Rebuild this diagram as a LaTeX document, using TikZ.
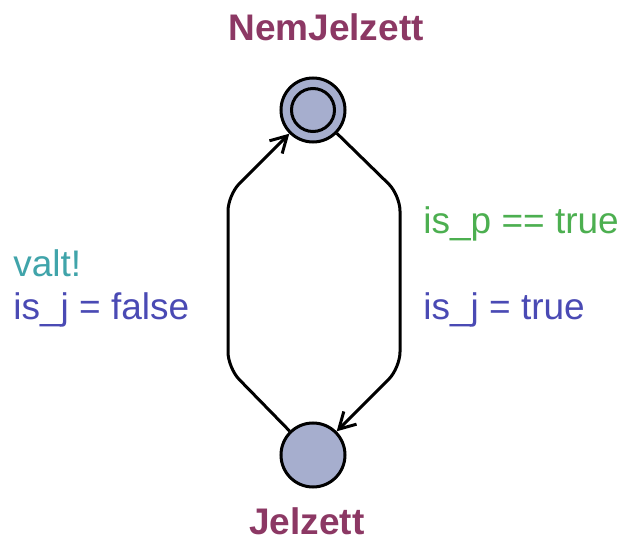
\documentclass[tikz,border=0pt]{standalone}
\usepackage{fontspec}
\setmainfont{Liberation Sans}
\usetikzlibrary{positioning,arrows.meta}

\definecolor{locfill}{RGB}{166,174,206}
\definecolor{locname}{RGB}{140,56,100}
\definecolor{synccol}{RGB}{64,164,170}
\definecolor{guardcol}{RGB}{76,175,80}
\definecolor{assigncol}{RGB}{74,74,180}

\tikzset{
  location/.style={circle, draw=black, line width=1.5pt, fill=locfill,
    minimum size=32pt, inner sep=0pt},
  locname/.style={font=\fontsize{18.5}{22}\selectfont\bfseries, text=locname, anchor=base},
  lbl/.style={font=\fontsize{18.5}{22}\selectfont, anchor=base west, inner sep=0pt},
  edge/.style={line width=1.5pt, rounded corners=8pt,
    -{Straight Barb[length=8pt, width=9pt, line width=1.5pt]}},
}

\begin{document}
\begin{tikzpicture}[x=0.5pt, y=-0.5pt]
   \fill[white] (0,0) rectangle (623,540);
   \useasboundingbox (0,0) rectangle (623,540);

   % locations
   \node[location] (nem) at (313,110) {};
   \draw[line width=1.5pt] (nem.center) circle (10.75pt);
   \node[location] (jel) at (313,455) {};

   \node[locname] (nemname) at (326,41) {NemJelzett};
   \node[locname] (jelname) at (307,535) {Jelzett};

   % bends
   \coordinate (lbot) at (228,368);
   \coordinate (ltop) at (228,195);
   \coordinate (rtop) at (400,195);
   \coordinate (rbot) at (400,368);

   \draw[edge] (jel) -- (lbot) -- (ltop) -- (nem);
   \draw[edge] (nem) -- (rtop) -- (rbot) -- (jel);

   % labels
   \node[lbl, text=synccol] (sync) at (13,277) {valt!};
   \node[lbl, text=assigncol] (upfalse) at (13,320) {is\_j = false};
   \node[lbl, text=guardcol] (guard) at (423,234) {is\_p == true};
   \node[lbl, text=assigncol] (uptrue) at (423,320) {is\_j = true};
\end{tikzpicture}
\end{document}
